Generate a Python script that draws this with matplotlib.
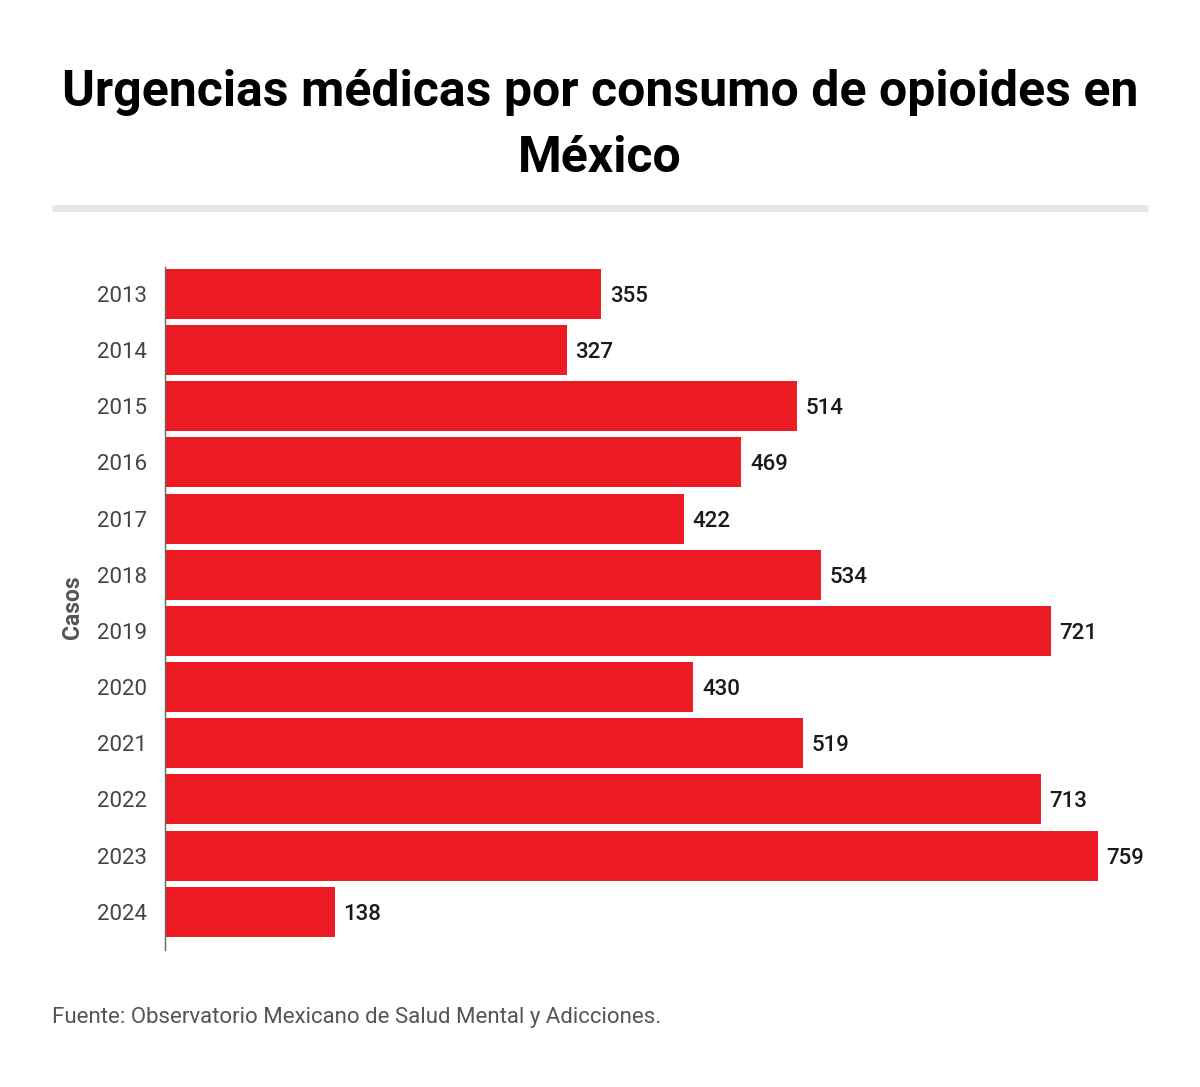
import matplotlib.pyplot as plt
from matplotlib.lines import Line2D

plt.rcParams['font.family'] = ['Roboto', 'DejaVu Sans']

years = ["2013", "2014", "2015", "2016", "2017", "2018",
         "2019", "2020", "2021", "2022", "2023", "2024"]
casos = [355, 327, 514, 469, 422, 534, 721, 430, 519, 713, 759, 138]

W, H = 1200, 1087
fig = plt.figure(figsize=(W / 100, H / 100), dpi=100)
fig.patch.set_facecolor("white")

# axes placed in pixel terms: x 165..1148, y 267..950
ax = fig.add_axes([165 / W, 1 - 950 / H, (1148 - 165) / W, (950 - 267) / H])
pos = list(range(len(years)))
ax.barh(pos, casos, height=0.89, color="#ED1C24")
ax.set_xlim(0, 800)
ax.set_ylim(11.68, -0.48)
ax.set_yticks(pos)
ax.set_yticklabels(years, fontsize=16, color="#444444")
ax.tick_params(axis="y", length=0, pad=13)
ax.set_xticks([])
for s in ["top", "right", "bottom"]:
    ax.spines[s].set_visible(False)
ax.spines["left"].set_color("#666666")
ax.spines["left"].set_linewidth(1)

for p, v in zip(pos, casos):
    ax.text(v + 7, p, str(v), va="center_baseline", ha="left", fontsize=16,
            color="#1a1a1a", fontweight="medium")

fig.text(72 / W, 1 - 607 / H, "Casos", rotation=90, ha="center", va="center",
         fontsize=16.5, fontweight="bold", color="#555555")

fig.text(0.5, 1 - 93 / H, "Urgencias médicas por consumo de opioides en",
         ha="center", va="center", fontsize=36, fontweight="bold", color="black")
fig.text(0.5, 1 - 159 / H, "México",
         ha="center", va="center", fontsize=36, fontweight="bold", color="black")

fig.add_artist(Line2D([52 / W, 1148 / W], [1 - 208 / H, 1 - 208 / H],
                      transform=fig.transFigure, color="#e6e6e6", linewidth=5,
                      solid_capstyle="butt"))

fig.text(52 / W, 1 - 1018 / H,
         "Fuente: Observatorio Mexicano de Salud Mental y Adicciones.",
         ha="left", va="center", fontsize=16, color="#555555")

fig.savefig("out.png", dpi=100, facecolor="white")
